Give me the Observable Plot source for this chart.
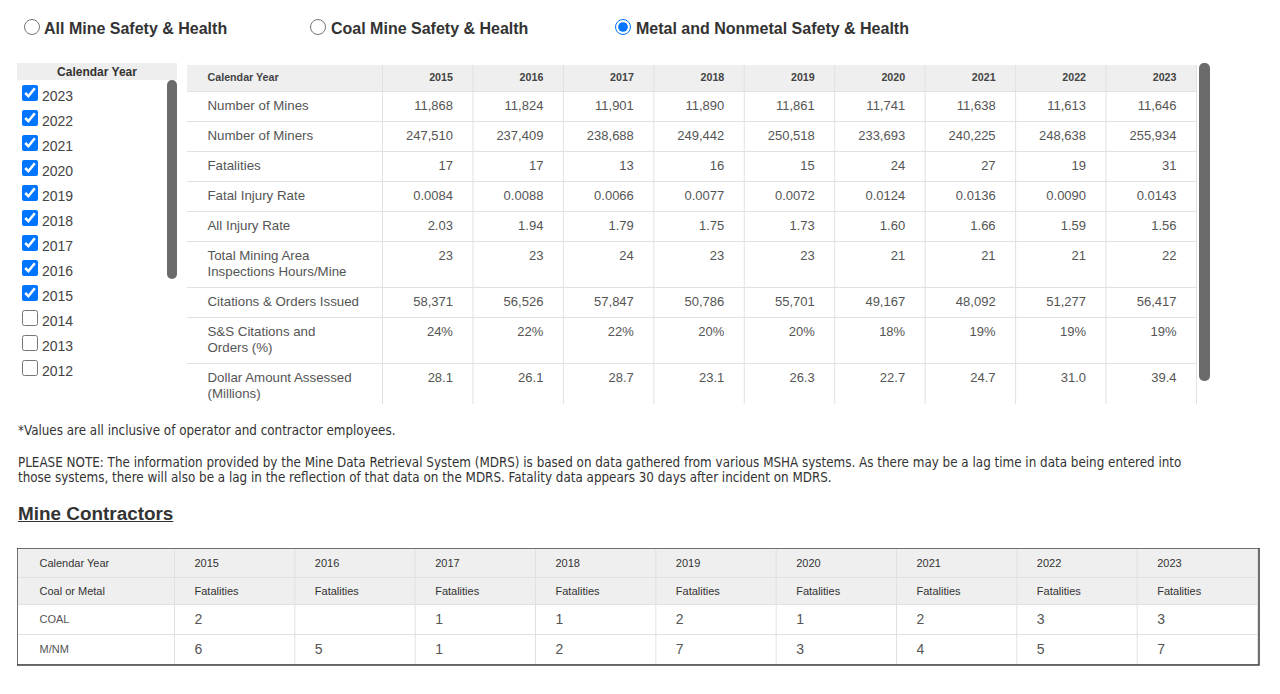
<!DOCTYPE html>
<html><head><meta charset="utf-8">
<script src="https://cdn.jsdelivr.net/npm/d3@7"></script>
<script src="https://cdn.jsdelivr.net/npm/@observablehq/plot@0.6"></script>
<style>
body{margin:0;width:1280px;height:694px;overflow:hidden;background:#fff;font-family:"Liberation Sans",Arial,sans-serif;position:relative;}
.abs{position:absolute;}
.radio{position:absolute;display:flex;align-items:center;font-weight:bold;font-size:16px;color:#333;line-height:20px;white-space:nowrap;}
.radio input{width:16px;height:16px;margin:0;position:relative;top:-2px;}
.cb{position:absolute;width:16px;height:16px;margin:0;}
.yr{position:absolute;font-size:14px;line-height:16px;color:#444;}
.note{position:absolute;left:18px;font-family:"DejaVu Sans Condensed","DejaVu Sans",sans-serif;font-size:13.3px;color:#333;white-space:nowrap;}
.sb{position:absolute;background:#6b6b6b;border-radius:5px;}
svg{display:block;}
</style></head><body>
<script>
// ---------- data ----------
const viewOptions = ["All Mine Safety & Health", "Coal Mine Safety & Health", "Metal and Nonmetal Safety & Health"];
const selectedView = "Metal and Nonmetal Safety & Health";
const listYears = [2023, 2022, 2021, 2020, 2019, 2018, 2017, 2016, 2015, 2014, 2013, 2012];
const firstCheckedYear = 2015;

const years = [2015, 2016, 2017, 2018, 2019, 2020, 2021, 2022, 2023];
const rowLabels = [
  "Number of Mines", "Number of Miners", "Fatalities", "Fatal Injury Rate", "All Injury Rate",
  "Total Mining Area\nInspections Hours/Mine", "Citations & Orders Issued",
  "S&S Citations and\nOrders (%)", "Dollar Amount Assessed\n(Millions)"
];
const numberOfMines = [11868, 11824, 11901, 11890, 11861, 11741, 11638, 11613, 11646];
const numberOfMiners = [247510, 237409, 238688, 249442, 250518, 233693, 240225, 248638, 255934];
const fatalities = [17, 17, 13, 16, 15, 24, 27, 19, 31];
const fatalInjuryRate = [0.0084, 0.0088, 0.0066, 0.0077, 0.0072, 0.0124, 0.0136, 0.0090, 0.0143];
const allInjuryRate = [2.03, 1.94, 1.79, 1.75, 1.73, 1.60, 1.66, 1.59, 1.56];
const inspectionHoursPerMine = [23, 23, 24, 23, 23, 21, 21, 21, 22];
const citationsOrders = [58371, 56526, 57847, 50786, 55701, 49167, 48092, 51277, 56417];
const ssCitationsPct = [24, 22, 22, 20, 20, 18, 19, 19, 19];
const dollarsAssessed = [28.1, 26.1, 28.7, 23.1, 26.3, 22.7, 24.7, 31.0, 39.4];

const contractorRows = ["COAL", "M/NM"];
const coalContractorFatalities = [2, null, 1, 1, 2, 1, 2, 3, 3];
const mnmContractorFatalities = [6, 5, 1, 2, 7, 3, 4, 5, 7];

const footnote = "*Values are all inclusive of operator and contractor employees.";
const noteLines = [
  "PLEASE NOTE: The information provided by the Mine Data Retrieval System (MDRS) is based on data gathered from various MSHA systems. As there may be a lag time in data being entered into",
  "those systems, there will also be a lag in the reflection of that data on the MDRS. Fatality data appears 30 days after incident on MDRS."
];
const contractorTitle = "Mine Contractors";

// ---------- page chrome ----------
const body = document.body;
function el(tag, cls, style, text) {
  const e = document.createElement(tag);
  if (cls) e.className = cls;
  Object.assign(e.style, style || {});
  if (text != null) e.textContent = text;
  body.appendChild(e);
  return e;
}
const radioLefts = [24, 310, 615];
viewOptions.forEach((v, i) => {
  const d = el("label", "radio", {left: radioLefts[i] + "px", top: "19px"});
  const inp = document.createElement("input");
  inp.type = "radio"; inp.name = "view"; inp.checked = v === selectedView;
  d.appendChild(inp);
  const s = document.createElement("span");
  s.textContent = v; s.style.marginLeft = (i === 0 ? 4 : 5) + "px";
  d.appendChild(s);
});

// year list
el("div", "abs", {left: "17px", top: "63px", width: "160px", height: "17px", background: "#eeeeee",
  fontWeight: "bold", fontSize: "12px", lineHeight: "19px", textAlign: "center", color: "#333", overflow: "hidden"}, "Calendar Year");
listYears.forEach((y, i) => {
  const c = el("input", "cb", {left: "22px", top: (85 + 25 * i) + "px"});
  c.type = "checkbox"; c.checked = y >= firstCheckedYear;
  el("span", "yr", {left: "42px", top: (88 + 25 * i) + "px"}, String(y));
});
el("div", "sb", {left: "167px", top: "80px", width: "10px", height: "199px"});
el("div", "sb", {left: "1199px", top: "63px", width: "11px", height: "318px"});

el("div", "note", {top: "423px", lineHeight: "16px"}, footnote);
const nb = el("div", "note", {top: "455px", lineHeight: "15px"});
noteLines.forEach((l, i) => { if (i) nb.appendChild(document.createElement("br")); nb.appendChild(document.createTextNode(l)); });
el("div", "abs", {left: "18px", top: "502px", fontSize: "18.9px", lineHeight: "24px", fontWeight: "bold",
  color: "#333", textDecoration: "underline"}, contractorTitle);

// ---------- main table (Plot) ----------
const fmtComma = d3.format(",");
const rowValues = [numberOfMines, numberOfMiners, fatalities, fatalInjuryRate, allInjuryRate,
  inspectionHoursPerMine, citationsOrders, ssCitationsPct, dollarsAssessed];
const rowFormats = [fmtComma, fmtComma, String, d3.format(".4f"), d3.format(".2f"), String, fmtComma,
  d => d + "%", d3.format(".1f")];

const T = {w: 1009, h: 339, labelW: 195, headH: 26, pad: 20};
const colW = (T.w - T.labelW) / years.length;
const colLeft = i => T.labelW + i * colW;
const tops = [];
let yCursor = T.headH;
rowLabels.forEach(l => { tops.push(yCursor); yCursor += 14 + 16 * l.split("\n").length; });
const cells = [];
rowLabels.forEach((l, r) => years.forEach((yr, c) => cells.push({r, c, text: rowFormats[r](rowValues[r][c])})));

const mainPlot = Plot.plot({
  width: T.w + 2, height: T.h, margin: 0,
  x: {type: "linear", domain: [0, T.w + 2], range: [0, T.w + 2], axis: null},
  y: {type: "linear", domain: [0, T.h], range: [0, T.h], axis: null},
  style: {fontFamily: '"Liberation Sans", Arial, sans-serif', fontSize: "13px", color: "#555", background: "transparent"},
  marks: [
    Plot.rect([0], {x1: 0, x2: T.w, y1: 0, y2: T.headH, fill: "#efefef"}),
    Plot.ruleY(tops.concat([yCursor]), {x1: 0, x2: T.w, stroke: "#e1e1e1"}),
    Plot.ruleX(d3.range(years.length + 1).map(colLeft), {stroke: "#e1e1e1"}),
    Plot.text(["Calendar Year"], {x: T.pad, y: T.headH / 2 - 0.5, text: d => d, textAnchor: "start",
      fontWeight: "bold", fontSize: 10.7, fill: "#444"}),
    Plot.text(years, {x: (d, i) => colLeft(i + 1) - T.pad, y: T.headH / 2 - 0.5, text: d => String(d),
      textAnchor: "end", fontWeight: "bold", fontSize: 10.7, fill: "#444"}),
    Plot.text(rowLabels, {x: T.pad, y: (d, i) => tops[i] + 8, text: d => d, textAnchor: "start",
      lineAnchor: "top", lineHeight: 1.16, fontSize: 13.3}),
    Plot.text(cells, {x: d => colLeft(d.c + 1) - T.pad, y: d => tops[d.r] + 9.5, text: "text",
      textAnchor: "end", lineAnchor: "top"})
  ]
});
const mainHolder = el("div", "abs", {left: "187px", top: "65px"});
mainHolder.appendChild(mainPlot);

// ---------- contractors table (Plot) ----------
const C = {w: 1242, h: 117, labelW: 157, inner: 1240, pad: 20, lab: 22};
const cColW = (C.inner - C.labelW) / years.length;
const cLeft = i => C.labelW + i * cColW;
const cRowEdges = [1, 29, 56, 86, 116];
const cMid = i => (cRowEdges[i] + cRowEdges[i + 1]) / 2;
const contractorValues = [coalContractorFatalities, mnmContractorFatalities];
const cCells = [];
contractorValues.forEach((arr, r) => arr.forEach((v, c) => { if (v != null) cCells.push({r, c, v}); }));

const contractorPlot = Plot.plot({
  width: C.w + 3, height: C.h + 3, margin: 0,
  x: {type: "linear", domain: [0, C.w + 3], range: [0, C.w + 3], axis: null},
  y: {type: "linear", domain: [0, C.h + 3], range: [0, C.h + 3], axis: null},
  style: {fontFamily: '"Liberation Sans", Arial, sans-serif', fontSize: "11px", color: "#444", background: "transparent"},
  marks: [
    Plot.rect([0], {x1: 1, x2: C.inner, y1: cRowEdges[0], y2: cRowEdges[2], fill: "#efefef"}),
    Plot.ruleY(cRowEdges.slice(1), {x1: 1, x2: C.inner, stroke: "#e1e1e1"}),
    Plot.ruleX(d3.range(years.length + 1).map(cLeft), {y1: 1, y2: cRowEdges[4], stroke: "#e1e1e1"}),
    Plot.rect([0], {x1: 0, x2: C.w, y1: 0, y2: C.h, fill: "none", stroke: "#222", strokeWidth: 1.3}),
    Plot.text(["Calendar Year"], {x: C.lab, y: cMid(0), text: d => d, textAnchor: "start", fill: "#333"}),
    Plot.text(["Coal or Metal"], {x: C.lab, y: cMid(1), text: d => d, textAnchor: "start", fill: "#333"}),
    Plot.text(years, {x: (d, i) => cLeft(i) + C.pad, y: cMid(0), text: d => String(d), textAnchor: "start", fill: "#333"}),
    Plot.text(years, {x: (d, i) => cLeft(i) + C.pad, y: cMid(1), text: () => "Fatalities", textAnchor: "start", fill: "#333"}),
    Plot.text(contractorRows, {x: C.lab, y: (d, i) => cMid(i + 2), text: d => d, textAnchor: "start", fill: "#555"}),
    Plot.text(cCells, {x: d => cLeft(d.c) + C.pad, y: d => cMid(d.r + 2), text: d => String(d.v),
      textAnchor: "start", fontSize: 14, fill: "#555"})
  ]
});
const cHolder = el("div", "abs", {left: "17px", top: "548px"});
cHolder.appendChild(contractorPlot);
</script>
</body></html>
